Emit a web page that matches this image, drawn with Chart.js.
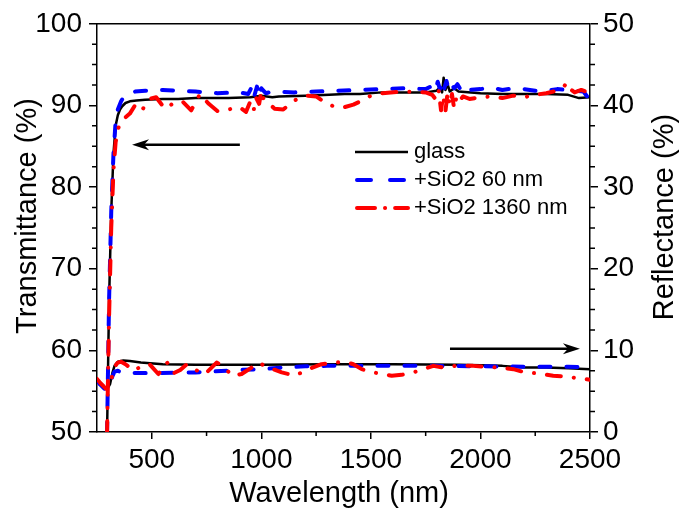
<!DOCTYPE html>
<html>
<head>
<meta charset="utf-8">
<script src="https://cdn.jsdelivr.net/npm/chart.js@4.4.1/dist/chart.umd.min.js"></script>
<style>
  body { margin: 0; background: #fff; }
  #chart { display: block; }
</style>
</head>
<body>
<canvas id="chart" width="680" height="512"></canvas>
<script>
// transmittance (left axis, %)
const glassTnm = [280, 296, 305, 315, 325, 335, 345, 355, 365, 380, 400, 430, 470, 550, 620, 700, 850, 950, 1000, 1050, 1080, 1200, 1310, 1380, 1450, 1550, 1650, 1750, 1800, 1815, 1825, 1832, 1840, 1850, 1860, 1880, 1900, 2000, 2100, 2200, 2300, 2400, 2450, 2500];
const glassT = [30, 50, 66, 77, 84, 87.5, 88.8, 89.5, 89.9, 90.3, 90.5, 90.6, 90.7, 90.8, 90.8, 90.9, 90.9, 91.0, 91.2, 91.0, 91.1, 91.2, 91.3, 91.4, 91.4, 91.6, 91.6, 91.6, 91.8, 92.2, 91.6, 93.4, 91.9, 92.6, 91.7, 92.1, 91.7, 91.5, 91.4, 91.4, 91.4, 91.3, 90.9, 91.0];

const sio60Tnm = [280, 296, 305, 315, 325, 335, 345, 360, 375, 400, 424, 470, 550, 620, 700, 800, 900, 940, 955, 965, 980, 990, 1000, 1020, 1050, 1150, 1250, 1350, 1450, 1550, 1650, 1750, 1780, 1795, 1805, 1815, 1825, 1835, 1845, 1855, 1865, 1880, 1895, 1910, 1925, 1950, 2000, 2050, 2100, 2150, 2200, 2250, 2300, 2350, 2400, 2470, 2490, 2500];
const sio60T = [30, 50, 66, 77, 84, 88, 89.5, 90.5, 91.2, 91.5, 91.7, 91.8, 91.9, 91.8, 91.7, 91.5, 91.6, 91.4, 92.2, 90.9, 92.3, 91.0, 92.1, 91.5, 91.7, 91.6, 91.7, 91.8, 91.9, 92.0, 92.1, 92.0, 92.4, 91.8, 92.9, 92.0, 93.1, 92.1, 93.0, 92.0, 92.7, 92.1, 92.6, 91.9, 92.4, 91.9, 92.0, 92.2, 91.9, 92.1, 92.0, 91.8, 91.8, 92.0, 91.9, 91.7, 91.0, 90.6];

const sio1360Tnm = [280, 296, 305, 315, 325, 335, 350, 370, 400, 430, 460, 490, 520, 560, 600, 640, 680, 720, 760, 800, 850, 900, 930, 950, 965, 975, 990, 1000, 1010, 1030, 1060, 1100, 1150, 1200, 1250, 1300, 1340, 1380, 1420, 1460, 1500, 1550, 1650, 1750, 1780, 1800, 1810, 1820, 1830, 1840, 1850, 1860, 1870, 1880, 1890, 1900, 1920, 1950, 2000, 2050, 2100, 2150, 2200, 2250, 2300, 2350, 2380, 2395, 2410, 2430, 2460, 2500];
const sio1360T = [30, 50, 64, 75, 82, 85.5, 87.5, 88.3, 89.0, 90.3, 89.6, 90.8, 91.0, 89.6, 90.3, 90.5, 89.4, 91.4, 90.2, 89.3, 89.5, 89.8, 89.2, 90.5, 89.4, 91.0, 90.2, 91.8, 90.8, 90.4, 89.6, 89.5, 90.6, 91.2, 91.1, 90.2, 89.8, 89.8, 90.1, 90.6, 91.2, 91.5, 91.7, 91.6, 91.3, 90.6, 91.8, 89.4, 91.2, 89.2, 91.6, 90.0, 91.4, 89.6, 91.0, 90.4, 91.1, 90.8, 91.0, 91.1, 90.9, 91.2, 91.0, 91.3, 91.5, 91.8, 92.3, 92.8, 92.0, 91.6, 91.9, 91.5];

// reflectance (right axis, %)
const glassRnm = [250, 265, 280, 290, 300, 310, 320, 330, 345, 370, 400, 450, 550, 700, 1000, 1300, 1600, 1900, 2100, 2200, 2300, 2400, 2500];
const glassR = [6.4, 5.9, 5.5, 5.3, 5.4, 5.9, 7.2, 8.1, 8.6, 8.75, 8.7, 8.5, 8.3, 8.25, 8.25, 8.3, 8.3, 8.25, 8.1, 7.9, 7.9, 7.8, 7.7];

const sio60Rnm = [250, 265, 280, 290, 300, 310, 320, 330, 345, 360, 400, 500, 700, 900, 1000, 1100, 1200, 1300, 1500, 1800, 2000, 2200, 2400, 2500];
const sio60R = [6.3, 5.8, 5.4, 5.2, 5.3, 5.8, 6.8, 7.4, 7.5, 7.3, 7.25, 7.2, 7.3, 7.6, 7.7, 7.9, 8.05, 8.1, 8.1, 8.1, 8.05, 8.0, 8.0, 7.9];

const sio1360Rnm = [250, 265, 280, 290, 300, 310, 320, 330, 345, 360, 380, 420, 454, 490, 530, 570, 600, 630, 660, 700, 743, 796, 830, 865, 910, 950, 986, 1032, 1093, 1154, 1214, 1275, 1330, 1382, 1420, 1458, 1511, 1595, 1640, 1694, 1785, 1830, 1884, 1967, 2020, 2074, 2150, 2203, 2256, 2332, 2393, 2439, 2500];
const sio1360R = [6.5, 6.0, 5.6, 5.3, 5.4, 5.9, 7.0, 8.0, 8.5, 8.6, 8.3, 7.5, 8.1, 8.3, 7.1, 8.5, 7.2, 7.6, 8.3, 7.6, 7.1, 8.5, 8.0, 6.9, 7.1, 7.8, 8.5, 7.9, 7.3, 6.9, 7.7, 8.3, 8.5, 8.6, 8.3, 7.7, 7.3, 6.9, 7.0, 7.3, 8.1, 7.9, 8.1, 8.1, 8.0, 7.9, 7.7, 7.3, 7.2, 6.9, 6.8, 6.6, 6.4];

const seriesNames = ["glass", "+SiO2 60 nm", "+SiO2 1360 nm"];

// ticks
const xTicks = [500, 1000, 1500, 2000, 2500];
const xMinorTicks = [750, 1250, 1750, 2250];
const tMinorTicks = [52.5, 55, 57.5, 62.5, 65, 67.5, 72.5, 75, 77.5, 82.5, 85, 87.5, 92.5, 95, 97.5];
const rMinorTicks = [2.5, 5, 7.5, 12.5, 15, 17.5, 22.5, 25, 27.5, 32.5, 35, 37.5, 42.5, 45, 47.5];

// arrows: [x start, x end] in nm, y in axis units
const arrowTx = [902, 410];
const arrowTy = 85.2;
const arrowRx = [1861, 2454];
const arrowRy = 10.2;

const FONT = "'Liberation Sans', Arial, sans-serif";

function toPoints(xs, ys) {
  return xs.map((x, i) => ({ x: x, y: ys[i] }));
}

function drawArrow(ctx, x0, x1, y) {
  const dir = x1 > x0 ? 1 : -1;
  ctx.save();
  ctx.strokeStyle = "#000";
  ctx.fillStyle = "#000";
  ctx.lineWidth = 2.5;
  ctx.beginPath();
  ctx.moveTo(x0, y);
  ctx.lineTo(x1 - dir * 8, y);
  ctx.stroke();
  ctx.beginPath();
  ctx.moveTo(x1, y);
  ctx.lineTo(x1 - dir * 17, y - 5.5);
  ctx.lineTo(x1 - dir * 12, y);
  ctx.lineTo(x1 - dir * 17, y + 5.5);
  ctx.closePath();
  ctx.fill();
  ctx.restore();
}

function drawRotatedTitle(ctx, text, x, y) {
  ctx.save();
  ctx.translate(x, y);
  ctx.rotate(-Math.PI / 2);
  ctx.textAlign = "center";
  ctx.textBaseline = "alphabetic";
  ctx.fillText(text, 0, 0);
  ctx.restore();
}

const frameAndExtras = {
  id: "frameAndExtras",
  afterDraw(chart) {
    const { ctx, chartArea, scales } = chart;
    const { left, right, top, bottom } = chartArea;
    ctx.save();
    ctx.strokeStyle = "#000";
    ctx.lineWidth = 1.5;
    // top edge
    ctx.beginPath();
    ctx.moveTo(left, top);
    ctx.lineTo(right, top);
    ctx.stroke();

    // minor ticks
    ctx.beginPath();
    xMinorTicks.forEach((v) => {
      const px = scales.x.getPixelForValue(v);
      ctx.moveTo(px, bottom);
      ctx.lineTo(px, bottom + 4);
    });
    tMinorTicks.forEach((v) => {
      const py = scales.y.getPixelForValue(v);
      ctx.moveTo(left - 5, py);
      ctx.lineTo(left, py);
    });
    rMinorTicks.forEach((v) => {
      const py = scales.y2.getPixelForValue(v);
      ctx.moveTo(right, py);
      ctx.lineTo(right + 5, py);
    });
    ctx.stroke();

    // arrows
    drawArrow(ctx, scales.x.getPixelForValue(arrowTx[0]), scales.x.getPixelForValue(arrowTx[1]), scales.y.getPixelForValue(arrowTy));
    drawArrow(ctx, scales.x.getPixelForValue(arrowRx[0]), scales.x.getPixelForValue(arrowRx[1]), scales.y2.getPixelForValue(arrowRy));

    // axis titles
    ctx.fillStyle = "#000";
    ctx.font = "29px " + FONT;
    ctx.textAlign = "center";
    ctx.textBaseline = "alphabetic";
    ctx.fillText("Wavelength (nm)", 339, 502);
    drawRotatedTitle(ctx, "Transmittance (%)", 36, 216);
    drawRotatedTitle(ctx, "Reflectance (%)", 673, 217);

    // legend
    const rows = [
      { color: "#000", dash: [], y: 152, x0: 355, x1: 408 },
      { color: "#0000ff", dash: [14, 19], y: 180, x0: 357, x1: 404 },
      { color: "#ff0000", dash: [18, 10, 0.1, 10], y: 208, x0: 357, x1: 408 },
    ];
    rows.forEach((r, i) => {
      ctx.beginPath();
      ctx.strokeStyle = r.color;
      ctx.lineWidth = i === 0 ? 2.5 : 4;
      ctx.lineCap = i === 0 ? "butt" : "round";
      ctx.setLineDash(r.dash);
      ctx.moveTo(r.x0, r.y);
      ctx.lineTo(r.x1, r.y);
      ctx.stroke();
      ctx.setLineDash([]);
      ctx.fillStyle = "#000";
      ctx.font = "22px " + FONT;
      ctx.textBaseline = "middle";
      ctx.textAlign = "left";
      ctx.fillText(seriesNames[i], 414, r.y);
    });
    ctx.restore();
  },
};

const tickFont = { family: FONT, size: 28 };
const plainLabel = (v) => String(v);

new Chart(document.getElementById("chart"), {
  type: "line",
  data: {
    datasets: [
      { label: seriesNames[0], data: toPoints(glassTnm, glassT), yAxisID: "y", borderColor: "#000", borderWidth: 2.5, order: 3 },
      { label: seriesNames[1], data: toPoints(sio60Tnm, sio60T), yAxisID: "y", borderColor: "#0000ff", borderWidth: 4, borderDash: [11, 16], borderCapStyle: "round", order: 2 },
      { label: seriesNames[2], data: toPoints(sio1360Tnm, sio1360T), yAxisID: "y", borderColor: "#ff0000", borderWidth: 4, borderDash: [14, 13, 0.1, 13], borderCapStyle: "round", order: 1 },
      { label: seriesNames[0], data: toPoints(glassRnm, glassR), yAxisID: "y2", borderColor: "#000", borderWidth: 2.5, order: 3 },
      { label: seriesNames[1], data: toPoints(sio60Rnm, sio60R), yAxisID: "y2", borderColor: "#0000ff", borderWidth: 4, borderDash: [11, 16], borderCapStyle: "round", order: 2 },
      { label: seriesNames[2], data: toPoints(sio1360Rnm, sio1360R), yAxisID: "y2", borderColor: "#ff0000", borderWidth: 4, borderDash: [14, 13, 0.1, 13], borderCapStyle: "round", order: 1 },
    ],
  },
  options: {
    responsive: false,
    animation: false,
    clip: 0,
    elements: {
      point: { radius: 0 },
      line: { tension: 0, borderJoinStyle: "round" },
    },
    layout: { padding: { top: 17, left: 0, right: 0, bottom: 0 } },
    plugins: { legend: { display: false }, tooltip: { enabled: false } },
    scales: {
      x: {
        type: "linear",
        min: 250,
        max: 2500,
        afterBuildTicks: (s) => { s.ticks = xTicks.map((v) => ({ value: v })); },
        afterFit: (s) => { s.height = 80; },
        border: { display: true, color: "#000", width: 1.5 },
        grid: { drawOnChartArea: false, drawTicks: true, tickLength: 7, color: "#000", lineWidth: 1.5 },
        ticks: { color: "#000", font: tickFont, padding: 4, maxRotation: 0, callback: plainLabel },
      },
      y: {
        position: "left",
        min: 50,
        max: 100,
        ticks: { stepSize: 10, color: "#000", font: tickFont, padding: 7, callback: plainLabel },
        afterFit: (s) => { s.width = 97; },
        border: { display: true, color: "#000", width: 1.5 },
        grid: { drawOnChartArea: false, drawTicks: true, tickLength: 8, color: "#000", lineWidth: 1.5 },
      },
      y2: {
        position: "right",
        min: 0,
        max: 50,
        ticks: { stepSize: 10, color: "#000", font: tickFont, padding: 5, callback: plainLabel },
        afterFit: (s) => { s.width = 90; },
        border: { display: true, color: "#000", width: 1.5 },
        grid: { drawOnChartArea: false, drawTicks: true, tickLength: 8, color: "#000", lineWidth: 1.5 },
      },
    },
  },
  plugins: [frameAndExtras],
});
</script>
</body>
</html>
